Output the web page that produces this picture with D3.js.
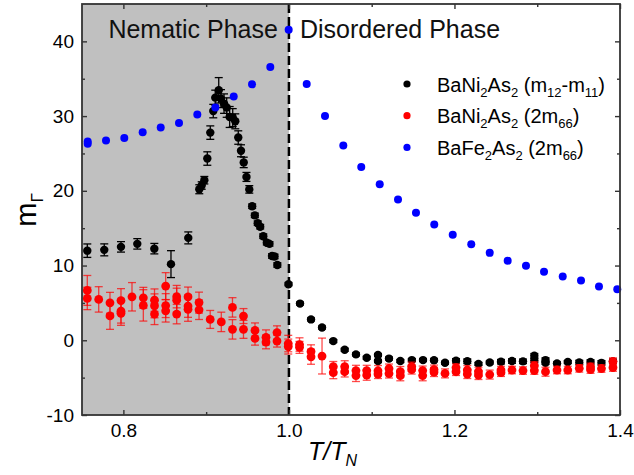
<!DOCTYPE html>
<html>
<head>
<meta charset="utf-8">
<script src="https://cdn.jsdelivr.net/npm/d3@7"></script>
<style>
  html, body { margin: 0; padding: 0; background: #fff; }
  svg { display: block; font-family: "Liberation Sans", Arial, sans-serif; }
</style>
</head>
<body>
<svg id="chart" width="634" height="475"></svg>
<script>
// Elastoresistivity coefficients vs reduced temperature T/T_N

// BaNi2As2 (m12 - m11)
const blackX = [0.7564, 0.7769, 0.7971, 0.8168, 0.8374, 0.8575, 0.8784, 0.8917, 0.8946, 0.8978,
  0.9014, 0.9050, 0.9086, 0.9110, 0.9152, 0.9179, 0.9216, 0.9248, 0.9284, 0.9321,
  0.9352, 0.9388, 0.9421, 0.9454, 0.9487, 0.9521, 0.9556, 0.9588, 0.9623, 0.9653,
  0.9690, 0.9733, 0.9765, 0.9796, 0.9826, 0.9860, 0.9995, 1.0134, 1.0267, 1.0400,
  1.0536, 1.0674, 1.0810, 1.0940, 1.1076, 1.1076, 1.1209, 1.1346, 1.1485, 1.1620,
  1.1753, 1.1886, 1.2019, 1.2155, 1.2290, 1.2426, 1.2562, 1.2695, 1.2828, 1.2965,
  1.2965, 1.3100, 1.3100, 1.3239, 1.3369, 1.3508, 1.3644, 1.3776, 1.3915];
const blackY = [11.99, 12.10, 12.50, 12.90, 12.26, 10.19, 13.70, 20.21, 20.71, 21.42,
  24.32, 27.79, 30.67, 32.47, 33.45, 32.34, 31.67, 31.14, 29.88, 29.80,
  29.30, 27.13, 25.36, 23.80, 21.86, 20.19, 17.94, 16.71, 15.67, 15.20,
  13.93, 13.06, 12.90, 11.28, 11.22, 10.08, 7.49, 4.91, 2.79, 1.70,
  -0.11, -1.27, -1.89, -2.34, -1.98, -2.78, -2.45, -2.78, -2.65, -2.65,
  -2.67, -3.01, -2.75, -2.81, -3.16, -2.98, -2.87, -2.78, -2.82, -2.07,
  -2.71, -2.65, -3.01, -3.09, -2.91, -2.98, -2.91, -3.02, -2.82];
const blackErr = [0.9, 0.8, 0.7, 0.7, 0.7, 1.8, 0.8, 0.6, 0.5, 0.5,
  0.9, 0.9, 0.9, 1.0, 1.7, 1.2, 1.3, 1.3, 1.4, 1.2,
  1.0, 0.9, 0.8, 0.7, 0.6, 0.5, 0.3, 0.3, 0.3, 0.3,
  0.3, 0.3, 0.3, 0.3, 0.3, 0.3, 0.2, 0.2, 0.2, 0.2,
  0.2, 0.2, 0.2, 0.2, 0.2, 0.2, 0.2, 0.2, 0.2, 0.2,
  0.2, 0.2, 0.3, 0.3, 0.2, 0.2, 0.3, 0.3, 0.3, 0.3,
  0.3, 0.3, 0.2, 0.2, 0.2, 0.3, 0.3, 0.3, 0.3];

// BaNi2As2 (2 m66)
const redX = [0.7564, 0.7564, 0.7702, 0.7838, 0.7838, 0.7971, 0.7971, 0.7971, 0.8104, 0.8241,
  0.8241, 0.8376, 0.8376, 0.8376, 0.8511, 0.8511, 0.8511, 0.8644, 0.8644, 0.8644,
  0.8781, 0.8781, 0.8781, 0.8914, 0.8914, 0.9049, 0.9183, 0.9318, 0.9318, 0.9451,
  0.9451, 0.9590, 0.9590, 0.9723, 0.9723, 0.9856, 0.9856, 0.9992, 0.9992, 1.0128,
  1.0128, 1.0267, 1.0267, 1.0400, 1.0536, 1.0536, 1.0674, 1.0674, 1.0810, 1.0810,
  1.0940, 1.0940, 1.1076, 1.1076, 1.1209, 1.1209, 1.1346, 1.1346, 1.1483, 1.1483,
  1.1616, 1.1616, 1.1753, 1.1753, 1.1886, 1.2019, 1.2019, 1.2155, 1.2155, 1.2290,
  1.2290, 1.2426, 1.2562, 1.2562, 1.2695, 1.2828, 1.2965, 1.2965, 1.3100, 1.3239,
  1.3369, 1.3508, 1.3644, 1.3644, 1.3776, 1.3915, 1.3915];
const redY = [6.67, 5.60, 5.47, 5.01, 3.26, 5.31, 3.90, 3.60, 5.82, 5.68,
  4.67, 5.37, 4.61, 3.50, 7.25, 4.64, 3.94, 5.84, 5.37, 3.50,
  5.82, 4.57, 4.14, 5.04, 4.08, 2.79, 2.46, 4.40, 1.46, 3.24,
  1.46, 1.32, 0.25, 0.39, -0.24, 1.03, -0.11, -0.44, -0.84, -0.57,
  -0.95, -1.51, -2.21, -2.11, -3.54, -4.34, -3.54, -4.21, -4.05, -4.72,
  -4.05, -4.65, -4.08, -4.52, -3.78, -4.45, -4.21, -4.72, -3.52, -3.92,
  -4.05, -4.72, -3.92, -4.25, -4.43, -3.65, -4.21, -3.98, -4.52, -4.21,
  -4.65, -4.59, -3.98, -4.34, -3.98, -4.05, -3.38, -4.05, -4.21, -3.98,
  -3.98, -3.76, -3.56, -3.92, -3.78, -2.85, -3.65];
const redErr = [2.0, 1.5, 1.7, 1.4, 1.8, 1.6, 1.6, 1.6, 1.9, 1.4,
  2.1, 1.5, 1.6, 1.4, 1.8, 1.6, 1.5, 1.5, 1.6, 1.3,
  1.3, 1.5, 1.6, 1.4, 1.3, 1.2, 1.3, 1.3, 1.3, 1.0,
  1.2, 1.0, 0.9, 1.0, 0.9, 0.9, 0.8, 1.1, 1.0, 0.9,
  0.8, 0.9, 1.0, 2.4, 0.7, 0.8, 0.8, 0.7, 0.7, 0.8,
  0.7, 0.7, 0.7, 0.6, 0.6, 0.6, 0.7, 0.7, 0.6, 0.6,
  0.6, 0.7, 0.6, 0.6, 0.6, 0.5, 0.5, 0.6, 0.6, 0.6,
  0.6, 0.6, 0.5, 0.5, 0.5, 0.5, 0.5, 0.5, 0.6, 0.5,
  0.5, 0.5, 0.5, 0.5, 0.5, 0.5, 0.5];

// BaFe2As2 (2 m66)
const blueX = [0.7569, 0.7569, 0.7790, 0.8011, 0.8233, 0.8451, 0.8672, 0.8893, 0.9111, 0.9333,
  0.9554, 0.9775, 0.9997, 1.0215, 1.0436, 1.0657, 1.0874, 1.1097, 1.1318, 1.1535,
  1.1756, 1.1979, 1.2203, 1.2426, 1.2643, 1.2864, 1.3082, 1.3308, 1.3529, 1.3746,
  1.3967];
const blueY = [26.30, 26.60, 26.72, 27.07, 27.83, 28.46, 29.08, 30.20, 31.14, 32.61,
  34.25, 36.56, 41.56, 34.29, 30.01, 26.06, 23.19, 20.88, 18.84, 17.05,
  15.49, 14.13, 12.86, 11.70, 10.63, 9.96, 9.16, 8.54, 8.01, 7.21,
  6.84];

const xTicks = [0.8, 1.0, 1.2, 1.4];
const xMinor = [0.9, 1.1, 1.3];
const yTicks = [-10, 0, 10, 20, 30, 40];
const yMinor = [-5, 5, 15, 25, 35];
const transitionT = 1.0;

const svg = d3.select("#chart");
const pLeft = 82, pRight = 620, pTop = 4, pBottom = 415;
const x = d3.scaleLinear().domain([0.75, 1.4]).range([pLeft, pRight]);
const y = d3.scaleLinear().domain([-10, 45]).range([pBottom, pTop]);

// shaded nematic region
svg.append("rect")
  .attr("x", x(0.75)).attr("y", pTop)
  .attr("width", x(transitionT) - x(0.75)).attr("height", pBottom - pTop)
  .attr("fill", "#c0c0c0");

// phase boundary
svg.append("line")
  .attr("x1", x(transitionT)).attr("x2", x(transitionT))
  .attr("y1", pTop).attr("y2", pBottom)
  .attr("stroke", "#000").attr("stroke-width", 2.5)
  .attr("stroke-dasharray", "9,4");

const plot = svg.append("g");

function series(xs, ys, errs, color, r, errColor, errOpacity) {
  const data = xs.map((d, i) => ({x: d, y: ys[i], e: errs ? errs[i] : 0}));
  const g = plot.append("g");
  if (errs) {
    const eb = g.selectAll("g.eb").data(data).join("g");
    eb.append("line")
      .attr("x1", d => x(d.x)).attr("x2", d => x(d.x))
      .attr("y1", d => y(d.y - d.e)).attr("y2", d => y(d.y + d.e));
    [-1, 1].forEach(s => eb.append("line")
      .attr("x1", d => x(d.x) - 4).attr("x2", d => x(d.x) + 4)
      .attr("y1", d => y(d.y + s * d.e)).attr("y2", d => y(d.y + s * d.e)));
    eb.selectAll("line").attr("stroke", errColor).attr("stroke-width", 1.3)
      .attr("stroke-opacity", errOpacity);
  }
  g.selectAll("circle").data(data).join("circle")
    .attr("cx", d => x(d.x)).attr("cy", d => y(d.y))
    .attr("r", r).attr("fill", color);
}

series(blackX, blackY, blackErr, "#000", 4.2, "#000", 1);
series(redX, redY, redErr, "#ff0000", 4.4, "#ff0000", 0.7);
series(blueX, blueY, null, "#0000ff", 4);

// frame with inward ticks
const axisColor = "#333";
function styleAxis(g) {
  g.select(".domain").remove();
  g.selectAll(".tick line").attr("stroke", axisColor).attr("stroke-width", 1.4);
  g.selectAll("text").attr("fill", "#000").attr("font-size", 19)
    .attr("font-family", "Liberation Sans, Arial, sans-serif");
}
const gx = svg.append("g").attr("transform", `translate(0,${pBottom})`)
  .call(d3.axisBottom(x).tickValues(xTicks).tickSize(-5).tickPadding(9).tickFormat(d3.format(".1f")));
styleAxis(gx);
gx.selectAll("text").attr("dy", "0.71em");
svg.append("g").attr("transform", `translate(0,${pBottom})`)
  .call(d3.axisBottom(x).tickValues(xMinor).tickSize(-3).tickFormat("")).call(styleAxis);
svg.append("g").attr("transform", `translate(0,${pTop})`)
  .call(d3.axisTop(x).tickValues(xTicks).tickSize(-5).tickFormat("")).call(styleAxis);
svg.append("g").attr("transform", `translate(0,${pTop})`)
  .call(d3.axisTop(x).tickValues(xMinor).tickSize(-3).tickFormat("")).call(styleAxis);

const gy = svg.append("g").attr("transform", `translate(${pLeft},0)`)
  .call(d3.axisLeft(y).tickValues(yTicks).tickSize(-5).tickPadding(8).tickFormat(d => String(d)));
styleAxis(gy);
svg.append("g").attr("transform", `translate(${pLeft},0)`)
  .call(d3.axisLeft(y).tickValues(yMinor).tickSize(-3).tickFormat("")).call(styleAxis);
svg.append("g").attr("transform", `translate(${pRight},0)`)
  .call(d3.axisRight(y).tickValues(yTicks).tickSize(-5).tickFormat("")).call(styleAxis);
svg.append("g").attr("transform", `translate(${pRight},0)`)
  .call(d3.axisRight(y).tickValues(yMinor).tickSize(-3).tickFormat("")).call(styleAxis);

svg.append("rect")
  .attr("x", pLeft).attr("y", pTop).attr("width", pRight - pLeft).attr("height", pBottom - pTop)
  .attr("fill", "none").attr("stroke", axisColor).attr("stroke-width", 1.8);

// phase labels
svg.append("text").attr("x", x(transitionT) - 11).attr("y", 38)
  .attr("text-anchor", "end").attr("font-size", 25).attr("fill", "#111")
  .text("Nematic Phase");
svg.append("text").attr("x", x(transitionT) + 11).attr("y", 38)
  .attr("font-size", 25).attr("fill", "#111")
  .text("Disordered Phase");

// axis titles
const xt = svg.append("text").attr("x", 308).attr("y", 460)
  .attr("font-size", 25).attr("font-style", "italic").attr("fill", "#000");
xt.append("tspan").text("T/T");
xt.append("tspan").attr("font-size", 16).attr("dy", 6).text("N");

const yt = svg.append("text")
  .attr("transform", "translate(36,210) rotate(-90)")
  .attr("text-anchor", "middle").attr("font-size", 29).attr("fill", "#000");
yt.append("tspan").text("m");
yt.append("tspan").attr("font-size", 17).attr("dy", 7).text("Γ");

// legend
const legendItems = [
  {color: "#000", parts: [["BaNi"], ["2", 1], ["As"], ["2", 1], [" (m"], ["12", 1], ["-m"], ["11", 1], [")"]]},
  {color: "#ff0000", parts: [["BaNi"], ["2", 1], ["As"], ["2", 1], [" (2m"], ["66", 1], [")"]]},
  {color: "#0000ff", parts: [["BaFe"], ["2", 1], ["As"], ["2", 1], [" (2m"], ["66", 1], [")"]]}
];
const leg = svg.append("g");
legendItems.forEach((it, i) => {
  const cy = 84 + i * 31.7;
  leg.append("circle").attr("cx", 407).attr("cy", cy).attr("r", 3.6).attr("fill", it.color);
  const t = leg.append("text").attr("x", 437).attr("y", cy + 7.5)
    .attr("font-size", 20).attr("fill", "#000");
  let sub = false;
  it.parts.forEach(([s, isSub]) => {
    const ts = t.append("tspan").text(s);
    if (isSub && !sub) { ts.attr("font-size", 13).attr("dy", 5); sub = true; }
    else if (isSub) { ts.attr("font-size", 13); }
    else if (sub) { ts.attr("dy", -5); sub = false; }
  });
});
</script>
</body>
</html>
